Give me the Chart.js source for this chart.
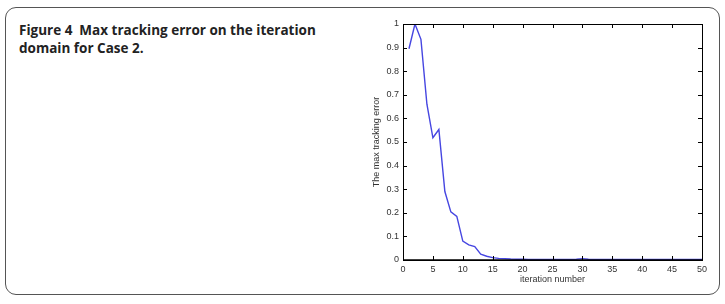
<!DOCTYPE html>
<html>
<head>
<meta charset="utf-8">
<script src="https://cdn.jsdelivr.net/npm/chart.js@4"></script>
<style>
    body { margin: 0; background: #fff; width: 725px; height: 304px; position: relative; overflow: hidden; }
    .frame {
        position: absolute; left: 5px; top: 7px; width: 715px; height: 288px;
        border: 1.5px solid #555; border-radius: 11px; box-sizing: border-box;
    }
    .caption {
        position: absolute; left: 19px; top: 21px; width: 330px;
        font-family: "Open Sans", sans-serif; font-weight: bold; font-size: 13.5px;
        line-height: 18px; color: #222;
    }
    #chart-box { position: absolute; left: 360px; top: 10px; width: 355px; height: 280px; }
</style>
</head>
<body>
<div class="frame"></div>
<div class="caption">Figure 4&nbsp;&nbsp;Max tracking error on the iteration domain for Case 2.</div>
<div id="chart-box"><canvas id="chart"></canvas></div>
<script>
const iterations = [
    1, 2, 3, 4, 5, 6, 7, 8, 9, 10,
    11, 12, 13, 14, 15, 16, 17, 18, 19, 20,
    21, 22, 23, 24, 25, 26, 27, 28, 29, 30,
    31, 32, 33, 34, 35, 36, 37, 38, 39, 40,
    41, 42, 43, 44, 45, 46, 47, 48, 49, 50,
];
const maxError = [
    0.895, 1.0, 0.935, 0.66, 0.518, 0.553, 0.29, 0.204, 0.185, 0.08,
    0.064, 0.057, 0.025, 0.016, 0.01, 0.007, 0.006, 0.004, 0.003, 0.003,
    0.002, 0.002, 0.002, 0.002, 0.002, 0.002, 0.002, 0.002, 0.003, 0.006,
    0.003, 0.002, 0.002, 0.002, 0.002, 0.002, 0.002, 0.002, 0.002, 0.002,
    0.002, 0.002, 0.002, 0.002, 0.002, 0.002, 0.002, 0.002, 0.002, 0.002,
];
const xTicks = [0, 5, 10, 15, 20, 25, 30, 35, 40, 45, 50];
const yTicks = [0, 0.1, 0.2, 0.3, 0.4, 0.5, 0.6, 0.7, 0.8, 0.9, 1];

const tickFont = { family: "Liberation Sans, Arial, sans-serif", size: 9 };

// box around the plot with matlab style inner ticks on all sides
const boxTicks = {
    id: "boxTicks",
    afterDraw(chart) {
        const { ctx, chartArea: a, scales } = chart;
        const len = 4;
        ctx.save();
        ctx.strokeStyle = "#000";
        ctx.lineWidth = 1;
        ctx.beginPath();
        xTicks.forEach((v) => {
            const x = Math.round(scales.x.getPixelForValue(v)) + 0.5;
            ctx.moveTo(x, a.bottom); ctx.lineTo(x, a.bottom - len);
            ctx.moveTo(x, a.top); ctx.lineTo(x, a.top + len);
        });
        yTicks.forEach((v) => {
            const y = Math.round(scales.y.getPixelForValue(v)) + 0.5;
            ctx.moveTo(a.left, y); ctx.lineTo(a.left + len, y);
            ctx.moveTo(a.right, y); ctx.lineTo(a.right - len, y);
        });
        ctx.stroke();
        ctx.strokeRect(Math.round(a.left) + 0.5, Math.round(a.top) + 0.5,
            Math.round(a.right - a.left), Math.round(a.bottom - a.top));
        ctx.lineWidth = 1.5;
        ctx.beginPath();
        ctx.moveTo(a.left, a.bottom); ctx.lineTo(a.right, a.bottom);
        ctx.stroke();
        ctx.restore();
    },
};

new Chart(document.querySelector("#chart"), {
    type: "line",
    data: {
        labels: iterations,
        datasets: [
            {
                data: iterations.map((it, i) => ({ x: it, y: maxError[i] })),
                borderColor: "rgb(70,70,225)",
                borderWidth: 1.4,
                pointRadius: 0,
                tension: 0,
            },
        ],
    },
    options: {
        responsive: true,
        maintainAspectRatio: false,
        animation: false,
        layout: { padding: { top: 14, right: 13, left: 11, bottom: 5 } },
        plugins: { legend: { display: false }, tooltip: { enabled: false } },
        scales: {
            x: {
                type: "linear",
                min: 0,
                max: 50,
                afterBuildTicks: (s) => { s.ticks = xTicks.map((v) => ({ value: v })); },
                grid: { display: false, drawTicks: false, tickLength: 0 },
                border: { display: false },
                ticks: { font: tickFont, color: "#333", padding: 4, maxRotation: 0 },
                title: {
                    display: true, text: "iteration number", font: tickFont,
                    color: "#333", padding: { top: 0, bottom: 0 },
                },
                afterFit: (s) => { s.height = 25; },
            },
            y: {
                min: 0,
                max: 1,
                afterBuildTicks: (s) => { s.ticks = yTicks.map((v) => ({ value: v })); },
                grid: { display: false, drawTicks: false, tickLength: 0 },
                border: { display: false },
                ticks: {
                    font: tickFont, color: "#333", padding: 4,
                    callback: (v) => String(v),
                },
                title: {
                    display: true, text: "The max tracking error", font: tickFont,
                    color: "#333", padding: { top: 0, bottom: 0 },
                },
                afterFit: (s) => { s.width = 32; },
            },
        },
    },
    plugins: [boxTicks],
});
</script>
</body>
</html>
